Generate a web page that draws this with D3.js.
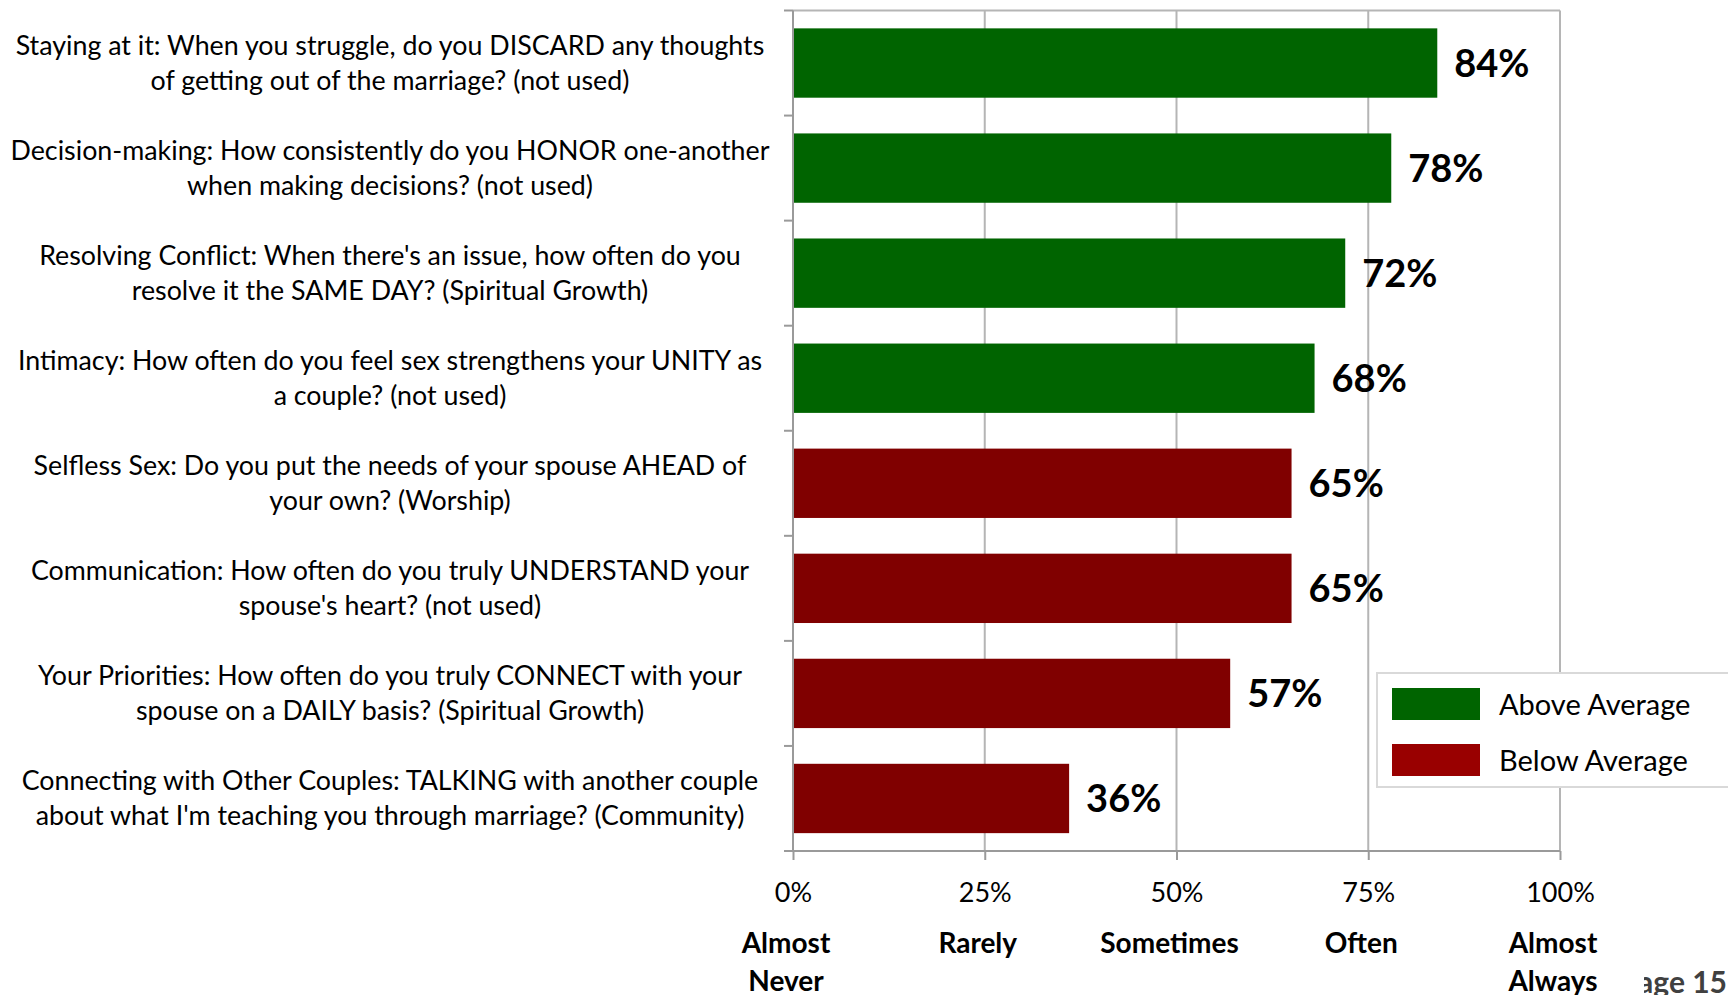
<!DOCTYPE html>
<html>
<head>
<meta charset="utf-8">
<script src="https://cdn.jsdelivr.net/npm/d3@7"></script>
<style>
  html, body { margin: 0; padding: 0; background: #ffffff; overflow: hidden; }
  svg { display: block; font-family: Lato, "Open Sans", sans-serif; }
</style>
</head>
<body>
<svg id="chart" width="1728" height="995"></svg>
<script>
// ---- Data ----
const categories = [
  ["Staying at it: When you struggle, do you DISCARD any thoughts", "of getting out of the marriage? (not used)"],
  ["Decision-making: How consistently do you HONOR one-another", "when making decisions? (not used)"],
  ["Resolving Conflict: When there's an issue, how often do you", "resolve it the SAME DAY? (Spiritual Growth)"],
  ["Intimacy: How often do you feel sex strengthens your UNITY as", "a couple? (not used)"],
  ["Selfless Sex: Do you put the needs of your spouse AHEAD of", "your own? (Worship)"],
  ["Communication: How often do you truly UNDERSTAND your", "spouse's heart? (not used)"],
  ["Your Priorities: How often do you truly CONNECT with your", "spouse on a DAILY basis? (Spiritual Growth)"],
  ["Connecting with Other Couples:  TALKING with another couple", "about what I'm teaching you through marriage? (Community)"]
];
const values = [84, 78, 72, 68, 65, 65, 57, 36];
const groups = ["Above Average", "Above Average", "Above Average", "Above Average",
                "Below Average", "Below Average", "Below Average", "Below Average"];
const tickValues = [0, 25, 50, 75, 100];
const tickLabels = ["0%", "25%", "50%", "75%", "100%"];
const frequencyLabels = [["Almost", "Never"], ["Rarely"], ["Sometimes"], ["Often"], ["Almost", "Always"]];
const legendItems = ["Above Average", "Below Average"];
const pageLabel = "Page 15";

// ---- Layout ----
const svg = d3.select("#chart");
const plot = { left: 793, right: 1560, top: 10.5, bottom: 851 };
const barColor = d3.scaleOrdinal().domain(legendItems).range(["#006400", "#800000"]);
const legendColor = d3.scaleOrdinal().domain(legendItems).range(["#006400", "#990000"]);
const gridColor = "#b5b5b5";
const axisColor = "#9a9a9a";

const x = d3.scaleLinear().domain([0, 100]).range([plot.left, plot.right]);
const y = d3.scaleBand().domain(d3.range(categories.length))
  .range([plot.top, plot.bottom]).paddingInner(0.34).paddingOuter(0.17);

// gridlines
svg.append("g").selectAll("line").data(tickValues.slice(1)).join("line")
  .attr("x1", d => x(d)).attr("x2", d => x(d))
  .attr("y1", plot.top).attr("y2", plot.bottom)
  .attr("stroke", gridColor).attr("stroke-width", 2);
// top border
svg.append("line").attr("x1", plot.left).attr("x2", plot.right)
  .attr("y1", plot.top).attr("y2", plot.top)
  .attr("stroke", gridColor).attr("stroke-width", 2);

// bars
svg.append("g").selectAll("rect").data(values).join("rect")
  .attr("x", x(0)).attr("y", (d, i) => y(i))
  .attr("width", d => x(d) - x(0)).attr("height", y.bandwidth())
  .attr("fill", (d, i) => barColor(groups[i]));

// value labels
svg.append("g").selectAll("text").data(values).join("text")
  .attr("x", d => x(d) + 17)
  .attr("y", (d, i) => y(i) + y.bandwidth() / 2 + 14)
  .attr("font-size", 38).attr("font-weight", 700).attr("fill", "#000")
  .text(d => d + "%");

// left axis
const bandEdges = d3.range(categories.length + 1).map(i => plot.top + i * y.step());
svg.append("line").attr("x1", plot.left).attr("x2", plot.left)
  .attr("y1", plot.top).attr("y2", plot.bottom)
  .attr("stroke", axisColor).attr("stroke-width", 2);
svg.append("g").selectAll("line").data(bandEdges).join("line")
  .attr("x1", plot.left - 9).attr("x2", plot.left)
  .attr("y1", d => d).attr("y2", d => d)
  .attr("stroke", axisColor).attr("stroke-width", 2);

// bottom axis
const xAxis = d3.axisBottom(x).tickValues(tickValues).tickSize(9)
  .tickFormat((d, i) => tickLabels[i]).tickPadding(23);
const gx = svg.append("g").attr("transform", `translate(0,${plot.bottom})`).call(xAxis);
gx.select(".domain").attr("stroke", axisColor).attr("stroke-width", 2)
  .attr("d", `M${plot.left - 9},0H${plot.right}`);
gx.selectAll(".tick line").attr("stroke", axisColor).attr("stroke-width", 2);
gx.selectAll(".tick text").attr("font-size", 27).attr("font-family", "Lato").attr("fill", "#000");

// page label (partly hidden behind the frequency label box)
svg.append("text").attr("x", 1727).attr("y", 993).attr("text-anchor", "end")
  .attr("font-size", 30).attr("font-weight", 700).attr("fill", "#404040").text(pageLabel);
svg.append("rect").attr("x", 1490).attr("y", 955).attr("width", 154).attr("height", 40).attr("fill", "#fff");

// frequency labels
const fg = svg.append("g").selectAll("text").data(frequencyLabels).join("text")
  .attr("text-anchor", "middle").attr("font-size", 28).attr("font-weight", 700).attr("fill", "#000");
fg.selectAll("tspan").data((d, i) => d.map(t => ({ t, i }))).join("tspan")
  .attr("x", d => x(tickValues[d.i]) - 7)
  .attr("y", (d, j) => 953 + j * 38)
  .text(d => d.t);

// category labels (font size fitted so the first line matches the reference width)
const labelCenter = 390;
const probe = svg.append("text").attr("font-size", 29).text(categories[0][0]);
const fit = 29 * 749 / probe.node().getComputedTextLength();
probe.remove();
const lg = svg.append("g").selectAll("text").data(categories).join("text")
  .attr("text-anchor", "middle").attr("font-size", fit).attr("fill", "#000");
lg.selectAll("tspan").data((d, i) => d.map((t, j) => ({ t, i, j }))).join("tspan")
  .attr("x", labelCenter)
  .attr("y", d => y(d.i) + y.bandwidth() / 2 + (d.j - 0.5) * 35 + fit * 0.34)
  .text(d => d.t);

// legend
const legend = svg.append("g");
legend.append("rect").attr("x", 1377).attr("y", 673).attr("width", 360).attr("height", 114)
  .attr("fill", "#fff").attr("stroke", "#d9d9d9").attr("stroke-width", 2);
const li = legend.selectAll("g.item").data(legendItems).join("g").attr("class", "item")
  .attr("transform", (d, i) => `translate(0,${i * 56})`);
li.append("rect").attr("x", 1392).attr("y", 688).attr("width", 88).attr("height", 32)
  .attr("fill", d => legendColor(d));
li.append("text").attr("x", 1499).attr("y", 715).attr("font-size", 29).attr("fill", "#000")
  .text(d => d);
</script>
</body>
</html>
